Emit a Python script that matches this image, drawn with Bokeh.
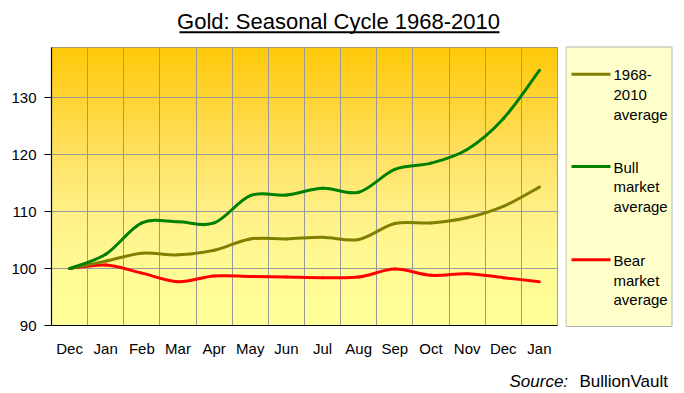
import numpy as np
from bokeh.plotting import figure
from bokeh.layouts import column, row
from bokeh.models import Range1d, FixedTicker
from bokeh.core.properties import value
from bokeh.embed import file_html
from bokeh.resources import INLINE

# ---- data ----
months = ["Dec", "Jan", "Feb", "Mar", "Apr", "May", "Jun",
          "Jul", "Aug", "Sep", "Oct", "Nov", "Dec", "Jan"]
avg_1968_2010 = [100.0, 101.3, 102.7, 102.4, 103.2, 105.2, 105.2,
                 105.5, 105.1, 107.9, 108.0, 108.9, 110.9, 114.3]
bull_avg = [100.0, 102.5, 108.0, 108.2, 108.0, 112.8, 112.9,
            114.1, 113.4, 117.4, 118.5, 120.9, 126.3, 134.8]
bear_avg = [100.0, 100.6, 99.2, 97.7, 98.7, 98.6, 98.5,
            98.4, 98.5, 99.9, 98.8, 99.1, 98.4, 97.7]
y_ticks = [90, 100, 110, 120, 130]
series_names = ["1968-\n2010\naverage", "Bull\nmarket\naverage", "Bear\nmarket\naverage"]
series_colors = ["#808000", "#008000", "#FF0000"]
title_text = "Gold: Seasonal Cycle 1968-2010"
source_label = "Source:"
source_name = "BullionVault"

FONT = "Liberation Sans"
Y0, Y1 = 90, 138.8
NX = len(months)


def no_align(f):
    if "frame_align" in f.properties():
        f.frame_align = False


def blank(w, h):
    f = figure(width=w, height=h, x_range=Range1d(0, w), y_range=Range1d(h, 0),
               output_backend="svg", toolbar_location=None,
               x_axis_type=None, y_axis_type=None,
               min_border_left=0, min_border_right=0, min_border_top=0, min_border_bottom=0)
    f.outline_line_color = None
    f.xgrid.visible = False
    f.ygrid.visible = False
    f.background_fill_color = "white"
    f.border_fill_color = "white"
    no_align(f)
    return f


# ---- title strip (page y 0..44) ----
pt = blank(684, 44)
pt.text(x=[338], y=[21], text=[title_text], text_font=value(FONT), text_font_size="22px",
        text_align="center", text_baseline="middle", text_color="black")
pt.segment(x0=[179], y0=[31.8], x1=[499], y1=[31.8], line_color="black", line_width=2)

# ---- main chart (page y 44..360, x 0..565) ----
p = figure(width=565, height=316, x_range=Range1d(0, NX), y_range=Range1d(Y0, Y1),
           output_backend="svg", toolbar_location=None,
           min_border_left=51, min_border_right=8, min_border_top=3, min_border_bottom=35)
p.background_fill_color = "white"
p.border_fill_color = "white"
p.outline_line_color = "#888888"
p.outline_line_width = 1
no_align(p)

# gradient background
N = 278
stops_y = [325, 269, 211, 155, 97, 47]
G = [255, 251, 240, 226, 212, 202]
B = [153, 150, 135, 100, 50, 10]
rows_py = 325 - (np.arange(N) + 0.5) * 278 / N
img = np.empty((N, 2), dtype=np.uint32)
view = img.view(dtype=np.uint8).reshape((N, 2, 4))
gv = np.interp(rows_py, stops_y[::-1], G[::-1])
bv = np.interp(rows_py, stops_y[::-1], B[::-1])
view[:, :, 0] = 255
view[:, :, 1] = gv[:, None].astype(np.uint8)
view[:, :, 2] = bv[:, None].astype(np.uint8)
view[:, :, 3] = 255
p.image_rgba(image=[img], x=0, y=Y0, dw=NX, dh=Y1 - Y0, level="image")

# grid
p.xgrid.ticker = FixedTicker(ticks=list(range(1, NX)))
p.ygrid.ticker = FixedTicker(ticks=y_ticks[1:])
for g in (p.xgrid, p.ygrid):
    g.grid_line_color = "#999999"
    g.grid_line_width = 1

# axes
xc = np.arange(NX) + 0.5
p.xaxis.ticker = FixedTicker(ticks=list(xc))
p.xaxis.major_label_overrides = {float(v): m for v, m in zip(xc, months)}
p.xaxis.major_tick_line_color = None
p.xaxis.major_tick_out = 0
p.xaxis.major_tick_in = 0
p.xaxis.minor_tick_line_color = None
p.xaxis.major_label_standoff = 14
p.yaxis.ticker = FixedTicker(ticks=y_ticks)
p.yaxis.major_tick_out = 7
p.yaxis.major_tick_in = 0
p.yaxis.minor_tick_line_color = None
p.yaxis.major_tick_line_color = "black"
p.yaxis.major_label_standoff = 8
for ax in (p.xaxis, p.yaxis):
    ax.axis_line_color = "black"
    ax.axis_line_width = 1.2
    ax.major_label_text_font = FONT
    ax.major_label_text_font_size = "15px"
    ax.major_label_text_color = "black"


# smoothed lines (Bezier through the data points, like a smoothed spreadsheet line)
def smooth(xs, ys):
    xs = np.asarray(xs, float)
    ys = np.asarray(ys, float)
    n = len(xs)
    xp = np.concatenate([[xs[0]], xs, [xs[-1]]])
    yp = np.concatenate([[ys[0]], ys, [ys[-1]]])
    cx0 = xp[1:n] + (xp[2:n + 1] - xp[0:n - 1]) / 6
    cy0 = yp[1:n] + (yp[2:n + 1] - yp[0:n - 1]) / 6
    cx1 = xp[2:n + 1] - (xp[3:n + 2] - xp[1:n]) / 6
    cy1 = yp[2:n + 1] - (yp[3:n + 2] - yp[1:n]) / 6
    return dict(x0=xs[:-1], y0=ys[:-1], x1=xs[1:], y1=ys[1:],
                cx0=cx0, cy0=cy0, cx1=cx1, cy1=cy1)


for vals, col in zip([bear_avg, avg_1968_2010, bull_avg],
                     [series_colors[2], series_colors[0], series_colors[1]]):
    p.bezier(**smooth(xc, vals), line_color=col, line_width=3, line_cap="round")

# ---- legend panel (page x 565..684, y 44..360) ----
pl = blank(119, 316)
pl.quad(left=[0.5], right=[106.5], top=[2.5], bottom=[282], fill_color="#FFFFCC",
        line_color="#B4B4B4", line_width=1)
entry_y = [29.7, 122.0, 215.3]
for names, col, ey in zip(series_names, series_colors, entry_y):
    pl.segment(x0=[6], y0=[ey], x1=[45], y1=[ey], line_color=col, line_width=3)
    for k, t in enumerate(names.split("\n")):
        pl.text(x=[48], y=[ey + k * 19.4 + 1], text=[t], text_font=value(FONT),
                text_font_size="15px", text_baseline="middle", text_color="black")

# ---- source strip (page y 360..393) ----
ps = blank(684, 33)
ps.text(x=[509], y=[20.5], text=[source_label], text_font=value(FONT), text_font_size="17px",
        text_font_style="italic", text_baseline="middle", text_color="black")
ps.text(x=[579], y=[20.5], text=[source_name], text_font=value(FONT), text_font_size="17px",
        text_baseline="middle", text_color="black")

layout = column(pt, row(p, pl), ps)
open("out.html", "w").write(file_html(layout, INLINE))
